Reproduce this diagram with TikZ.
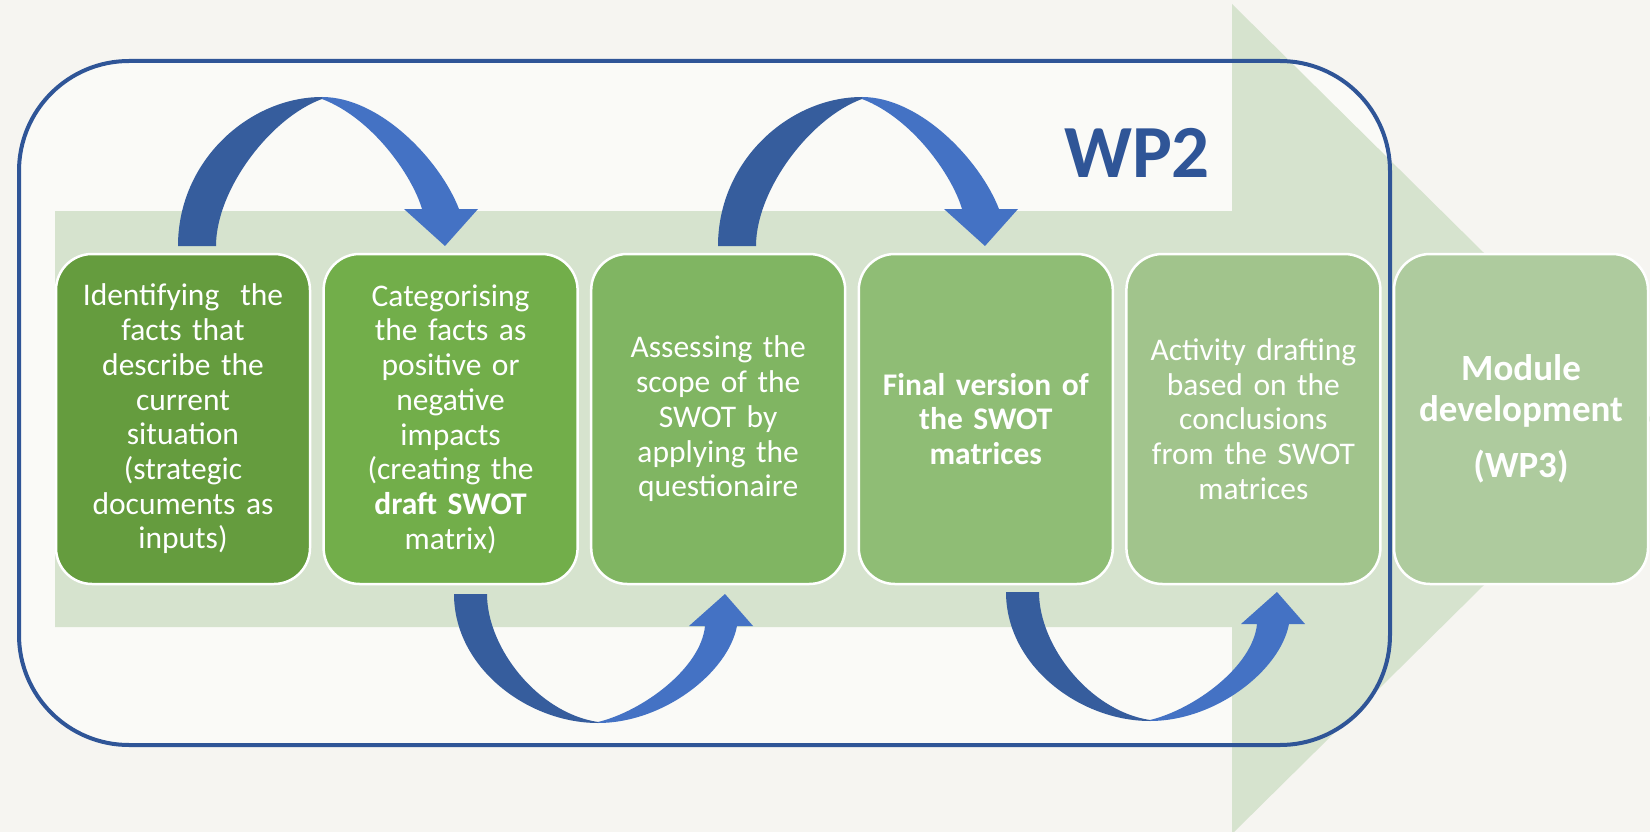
\documentclass[tikz,border=0pt]{standalone}
\usepackage{fontspec}
\setmainfont{Carlito}
\usetikzlibrary{positioning}

\definecolor{bgpaper}{HTML}{F6F5F1}
\definecolor{bginner}{HTML}{FAFAF7}
\definecolor{flowgreen}{HTML}{D6E3CE}
\definecolor{wpblue}{HTML}{2F5597}
\definecolor{arrowdark}{HTML}{365D9D}
\definecolor{arrowlight}{HTML}{4472C4}
\definecolor{stepA}{HTML}{659C3E}
\definecolor{stepB}{HTML}{72AE4A}
\definecolor{stepC}{HTML}{80B562}
\definecolor{stepD}{HTML}{8FBD75}
\definecolor{stepE}{HTML}{A1C48C}
\definecolor{stepF}{HTML}{AECB9E}

\tikzset{
  stepbox/.style={draw=white, line width=2.5pt, rounded corners=36pt, outer sep=0pt,
    minimum width=254pt, minimum height=330pt, text width=238pt, inner xsep=8pt, inner ysep=0pt,
    align=center, text=white, font=\fontsize{31.5}{34.7}\selectfont},
}

\begin{document}
\begin{tikzpicture}[x=1pt,y=-1pt]
  \def\gap{13.6pt};
  \def\toparrow#1{\begin{scope}[shift={(#1)}]
    \fill[arrowdark] (-144,149) .. controls (-144,63) and (-72,0) .. (0,0) -- (0,2) .. controls (-52,21) and (-106,93) .. (-106,149) -- cycle;
    \fill[arrowlight] (0,0) .. controls (58,0) and (118,63) .. (137,112) -- (156,112) -- (123,149) -- (82,112) -- (100,112) .. controls (90,78) and (50,21) .. (0,2) -- cycle;
  \end{scope}};
  \def\botarrow#1{\begin{scope}[shift={(#1)}]
    \fill[arrowdark] (-144,-129) .. controls (-144,-55) and (-70,0) .. (0,0) -- (0,-1) .. controls (-60,-10) and (-111,-75) .. (-111,-129) -- cycle;
    \fill[arrowlight] (0,0) .. controls (65,0) and (130,-50) .. (139,-97) -- (155,-97) -- (127,-129) -- (91,-97) -- (107,-97) .. controls (103,-55) and (45,-12) .. (0,-1) -- cycle;
  \end{scope}};

  \useasboundingbox (0,0) rectangle (1650,832);
  \fill[bgpaper] (0,0) rectangle (1650,832); % 背景
  \fill[bginner, rounded corners=110pt] (19,61) rectangle (1390,745);
  \fill[flowgreen] (55,211) -- (1232,211) -- (1232,4) -- (1652,419) -- (1232,834) -- (1232,627) -- (55,627) -- cycle; % 大きな矢印
  \draw[wpblue, line width=4pt, rounded corners=110pt] (19,61) rectangle (1390,745); % WP2の枠
  \node[text=wpblue, font=\fontsize{75}{90}\selectfont\bfseries] (wp) at (1137,152.5) {WP2};

  \node[stepbox, fill=stepA] (s1) at (183,419) {Identifying\ \ the\\facts that\\describe the\\current\\situation\\(strategic\\documents as\\inputs)};
  \node[stepbox, fill=stepB, right=\gap of s1] (s2) {Categorising\\the facts as\\positive or\\negative\\impacts\\(creating the\\\textbf{draft SWOT}\\matrix)};
  \node[stepbox, fill=stepC, right=\gap of s2] (s3) {Assessing the\\scope of the\\SWOT by\\applying the\\questionaire};
  \node[stepbox, fill=stepD, right=\gap of s3, font=\fontsize{31.5}{34.7}\selectfont\bfseries] (s4) {Final version of\\the SWOT\\matrices};
  \node[stepbox, fill=stepE, right=\gap of s4] (s5) {Activity drafting\\based on the\\conclusions\\from the SWOT\\matrices};
  \node[stepbox, fill=stepF, right=\gap of s5, font=\fontsize{37}{40.6}\selectfont\bfseries] (s6) {Module\\development\\[16pt](WP3)};

  \coordinate (ta1) at (322,97); % 上の矢印の頂点
  \coordinate (ta2) at (862,97);
  \coordinate (ba1) at (598,723); % 下の矢印の頂点
  \coordinate (ba2) at (1150,721);
  \toparrow{ta1}
  \toparrow{ta2}
  \botarrow{ba1}
  \botarrow{ba2}
\end{tikzpicture}
\end{document}
